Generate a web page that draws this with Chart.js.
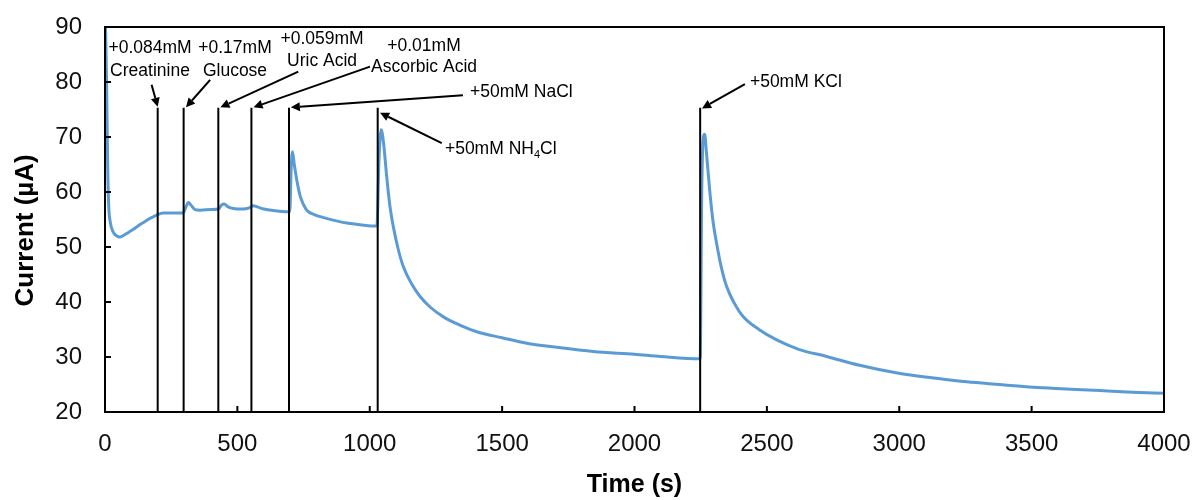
<!DOCTYPE html>
<html>
<head>
<meta charset="utf-8">
<script src="https://cdn.jsdelivr.net/npm/chart.js@4.4.1/dist/chart.umd.min.js"></script>
<style>
  html, body { margin: 0; padding: 0; background: #fff; }
</style>
</head>
<body>
<canvas id="chart" width="1195" height="500"></canvas>
<script>
// amperometric response
const timeS = [
  2, 6, 10, 14, 20, 30, 45, 55, 70, 90, 110, 130, 150, 170, 195, 220, 250, 295,
  305, 315, 325, 340, 360, 400, 428, 440, 450, 465, 485, 520, 545, 560, 575, 600, 640, 690, 698,
  703, 708, 715, 725, 737, 750, 762, 790, 830, 870, 920, 970, 1027,
  1035, 1043, 1052, 1064, 1076, 1089, 1108, 1127, 1158, 1190, 1230, 1278, 1340, 1404, 1500, 1593,
  1700, 1844, 2000, 2100, 2245,
  2248, 2254, 2260, 2265, 2272, 2285, 2297, 2310, 2328, 2348, 2378, 2411, 2470, 2537, 2620, 2726,
  2850, 3003, 3130, 3255, 3380, 3506, 3630, 3758, 3880, 4000
]
const currentUA = [
  90, 80, 65, 57.5, 54.5, 52.8, 52.0, 51.8, 52.1, 52.7, 53.3, 54.0, 54.6, 55.2, 55.8, 56.2, 56.2, 56.2,
  57.2, 58.1, 57.6, 56.8, 56.7, 56.8, 56.9, 57.6, 57.8, 57.3, 57.0, 56.9, 57.1, 57.5, 57.3, 56.9, 56.6, 56.4, 56.4,
  64, 67.3, 65, 62, 59.3, 57.7, 56.7, 55.9, 55.3, 54.8, 54.3, 54.0, 53.8,
  66, 71.3, 69, 62.8, 57.5, 53.7, 49.5, 46.4, 43.3, 41.0, 39.0, 37.3, 35.8, 34.6, 33.5, 32.5,
  31.8, 31.0, 30.5, 30.1, 29.7,
  29.7, 60, 70, 70.5, 67, 59.8, 54.5, 50.7, 46.3, 42.8, 39.7, 37.3, 35.0, 33.1, 31.4, 30.1,
  28.5, 27.0, 26.2, 25.5, 25.0, 24.5, 24.2, 23.9, 23.6, 23.4
]

// injection times (s) and the height of the marker lines (µA)
const addTimes = [199, 297, 428, 553, 695, 1030, 2248]
const markLow = 20
const markHigh = 75.3

const xMin = 0, xMax = 4000, xStep = 500
const yMin = 20, yMax = 90, yStep = 10

// callout texts; "_4" is drawn as a subscript
const noteText = [
  ['+0.084mM', 'Creatinine'],
  ['+0.17mM', 'Glucose'],
  ['+0.059mM', 'Uric Acid'],
  ['+0.01mM', 'Ascorbic Acid'],
  ['+50mM NaCl'],
  ['+50mM NH_4Cl'],
  ['+50mM KCl']
]

// where each callout sits, in data units
const notePlace = [
  { at: [170, 86.2], gap: 4.3, align: 'center', from: [176, 79.5], tip: [199, 75.5] },
  { at: [491, 86.2], gap: 4.3, align: 'center', from: [397, 80.4], tip: [306, 75.4] },
  { at: [820, 87.8], gap: 4.0, align: 'center', from: [730, 81.9], tip: [436, 75.4] },
  { at: [1205, 86.6], gap: 3.9, align: 'center', from: [1001, 82.8], tip: [561, 75.4] },
  { at: [1379, 78.1], gap: 0, align: 'left', from: [1352, 77.6], tip: [702, 75.4] },
  { at: [1284, 67.7], gap: 0, align: 'left', from: [1272, 68.9], tip: [1039, 74.4] },
  { at: [2436, 79.9], gap: 0, align: 'left', from: [2417, 79.6], tip: [2255, 75.2] }
]

const FONT = '"Liberation Sans", Arial, sans-serif'

function drawArrow(ctx, x0, y0, x1, y1) {
  const ang = Math.atan2(y1 - y0, x1 - x0)
  const len = 9, half = 4.5
  const bx = x1 - len * Math.cos(ang), by = y1 - len * Math.sin(ang)
  ctx.beginPath()
  ctx.moveTo(x0, y0)
  ctx.lineTo(bx, by)
  ctx.stroke()
  ctx.beginPath()
  ctx.moveTo(x1, y1)
  ctx.lineTo(bx + half * Math.sin(ang), by - half * Math.cos(ang))
  ctx.lineTo(bx - half * Math.sin(ang), by + half * Math.cos(ang))
  ctx.closePath()
  ctx.fill()
}

function drawRich(ctx, str, x, y, align) {
  const parts = str.split(/_(\d)/)
  const big = '17.5px ' + FONT, small = '11px ' + FONT
  let w = 0
  parts.forEach((p, i) => { ctx.font = i % 2 ? small : big; w += ctx.measureText(p).width })
  let cx = align === 'center' ? x - w / 2 : x
  ctx.textAlign = 'left'
  ctx.textBaseline = 'middle'
  parts.forEach((p, i) => {
    ctx.font = i % 2 ? small : big
    ctx.fillText(p, cx, i % 2 ? y + 5 : y)
    cx += ctx.measureText(p).width
  })
}

const frame = {
  id: 'frame',
  afterDatasetsDraw(chart) {
    const { ctx, chartArea: a, scales: { x, y } } = chart
    ctx.save()
    ctx.strokeStyle = '#000'
    ctx.lineWidth = 2
    ctx.strokeRect(a.left, a.top, a.right - a.left, a.bottom - a.top)
    // tick marks point into the plot
    ctx.beginPath()
    x.ticks.forEach(t => {
      const px = x.getPixelForValue(t.value)
      ctx.moveTo(px, a.bottom); ctx.lineTo(px, a.bottom - 6)
    })
    y.ticks.forEach(t => {
      const py = y.getPixelForValue(t.value)
      ctx.moveTo(a.left, py); ctx.lineTo(a.left + 6, py)
    })
    ctx.stroke()
    ctx.restore()
  }
}

const callouts = {
  id: 'callouts',
  afterDatasetsDraw(chart) {
    const { ctx, scales: { x, y } } = chart
    ctx.save()
    ctx.strokeStyle = '#000'
    ctx.fillStyle = '#000'
    ctx.lineWidth = 2
    notePlace.forEach((n, i) => {
      drawArrow(ctx,
        x.getPixelForValue(n.from[0]), y.getPixelForValue(n.from[1]),
        x.getPixelForValue(n.tip[0]), y.getPixelForValue(n.tip[1]))
      noteText[i].forEach((line, k) => {
        drawRich(ctx, line, x.getPixelForValue(n.at[0]), y.getPixelForValue(n.at[1] - k * n.gap), n.align)
      })
    })
    ctx.restore()
  }
}

const markerSets = addTimes.map(t => ({
  data: [{ x: t, y: markLow }, { x: t, y: markHigh }],
  borderColor: '#000',
  borderWidth: 2,
  pointRadius: 0
}))

// let the outer layout padding alone decide the plot box
function noOverhang(s) {
  s.paddingTop = 0; s.paddingBottom = 0; s.paddingLeft = 0; s.paddingRight = 0
}

new Chart(document.getElementById('chart'), {
  type: 'line',
  data: {
    datasets: [
      ...markerSets,
      {
        label: 'Current',
        data: timeS.map((t, i) => ({ x: t, y: currentUA[i] })),
        borderColor: '#5B9BD5',
        borderWidth: 3,
        pointRadius: 0,
        cubicInterpolationMode: 'monotone'
      }
    ]
  },
  options: {
    responsive: false,
    animation: false,
    layout: { padding: { left: 0, right: 31, top: 27, bottom: 0 } },
    plugins: { legend: { display: false }, tooltip: { enabled: false } },
    scales: {
      x: {
        type: 'linear',
        min: xMin, max: xMax,
        grid: { display: false, drawTicks: false },
        border: { display: false },
        ticks: { stepSize: xStep, padding: 18, color: '#111', font: { family: FONT, size: 24 },
                 callback: v => String(v) },
        title: { display: true, text: 'Time (s)', color: '#000', padding: { top: 0, bottom: 0 },
                 font: { family: FONT, size: 25, weight: 'bold', lineHeight: 1.2 } },
        afterFit(s) { s.height = 88; noOverhang(s) }
      },
      y: {
        min: yMin, max: yMax,
        grid: { display: false, drawTicks: false },
        border: { display: false },
        ticks: { stepSize: yStep, padding: 23, color: '#111', font: { family: FONT, size: 24 } },
        title: { display: true, text: 'Current (µA)   ', color: '#000', padding: { top: 10, bottom: 0 },
                 font: { family: FONT, size: 26, weight: 'bold', lineHeight: 1.2 } },
        afterFit(s) { s.width = 105; noOverhang(s) }
      }
    }
  },
  plugins: [frame, callouts]
})
</script>
</body>
</html>
